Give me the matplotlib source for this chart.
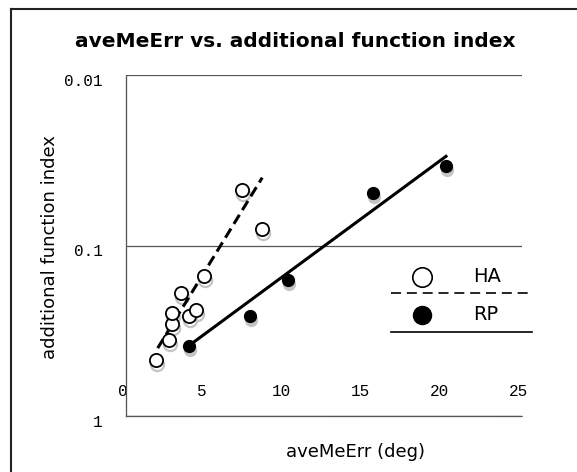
#!/usr/bin/env python3
import matplotlib
matplotlib.use("Agg")
import matplotlib.pyplot as plt
import matplotlib.transforms as mtransforms
from matplotlib.lines import Line2D
from matplotlib.ticker import NullLocator

W, H = 577, 472  # pixels

# HA series (open circles)
ha_x = [1.9, 2.7, 2.9, 2.9, 3.5, 4.0, 4.4, 4.9, 7.3, 8.6]
ha_y = [0.47, 0.36, 0.29, 0.25, 0.19, 0.26, 0.24, 0.15, 0.047, 0.080]
# RP series (filled circles)
rp_x = [4.0, 7.8, 10.2, 15.6, 20.2]
rp_y = [0.39, 0.26, 0.16, 0.049, 0.034]

# trend lines as drawn in the chart (end points)
ha_trend_x = [2.0, 8.6]
ha_trend_y = [0.40, 0.040]
rp_trend_x = [4.0, 20.2]
rp_trend_y = [0.385, 0.030]

x_ticks = [0, 5, 10, 15, 20, 25]
y_ticks = [0.01, 0.1, 1]
y_tick_labels = ["0.01", "0.1", "1"]

tick_font = dict(family="Liberation Mono", size=11.5)

fig = plt.figure(figsize=(W / 100.0, H / 100.0), dpi=100)
ax = fig.add_axes([126 / W, 1 - 416 / H, 396 / W, 341 / H])

# gray drop shadows under the markers
shadow = mtransforms.offset_copy(ax.transData, fig=fig, x=1, y=-4, units="dots")
ax.plot(ha_x, ha_y, "o", ms=9.5, mfc="none", mec="#c4c4c4", mew=1.6,
        transform=shadow, zorder=2)
ax.plot(rp_x, rp_y, "o", ms=8.5, mfc="#c4c4c4", mec="#c4c4c4",
        transform=shadow, zorder=2)

ax.plot(ha_trend_x, ha_trend_y, color="black", lw=2.2,
        linestyle=(0, (3.5, 1.8)), zorder=3)
ax.plot(rp_trend_x, rp_trend_y, color="black", lw=2.2, zorder=3)

ax.plot(ha_x, ha_y, "o", ms=9.5, mfc="white", mec="black", mew=1.3, zorder=4)
ax.plot(rp_x, rp_y, "o", ms=8.5, mfc="black", mec="black", zorder=4)

ax.set_yscale("log")
ax.set_ylim(1, 0.01)
ax.set_xlim(0, 25)
ax.yaxis.set_minor_locator(NullLocator())
ax.set_yticks(y_ticks, labels=y_tick_labels)
ax.set_xticks(x_ticks)
ax.grid(True, axis="y", color="#555555", lw=0.9)
ax.grid(False, axis="x")

for side in ["top", "right"]:
    ax.spines[side].set_visible(False)
for side in ["left", "bottom"]:
    ax.spines[side].set_color("#555555")
    ax.spines[side].set_linewidth(0.9)
    ax.spines[side].set_linestyle((0, (1.5, 0.6)))

ax.tick_params(axis="y", length=0, pad=17)
ax.tick_params(axis="x", length=0, pad=-23)
for lbl in ax.get_yticklabels() + ax.get_xticklabels():
    lbl.set_fontfamily(tick_font["family"])
    lbl.set_fontsize(tick_font["size"])
ydown = mtransforms.ScaledTranslation(0, -5 / 100.0, fig.dpi_scale_trans)
for lbl in ax.get_yticklabels():
    lbl.set_transform(lbl.get_transform() + ydown)
xleft = mtransforms.ScaledTranslation(-3 / 100.0, 0, fig.dpi_scale_trans)
for lbl in ax.get_xticklabels():
    lbl.set_transform(lbl.get_transform() + xleft)

# legend, drawn by hand (marker row, then a line row per series)
lx0, lx1 = (391 - 126) / 396, (532 - 126) / 396
mx, tx = (422 - 126) / 396, (473 - 126) / 396
ax.plot([mx], [0.4085], "o", ms=14, mfc="white", mec="black", mew=1.2,
        transform=ax.transAxes, clip_on=False, zorder=5)
ax.text(tx, 0.4085, "HA", transform=ax.transAxes, fontsize=14,
        va="center", ha="left")
ax.plot([lx0, lx1], [0.3618, 0.3618], color="black", lw=1.2,
        linestyle=(0, (6, 3.5)), transform=ax.transAxes, clip_on=False)
ax.plot([mx], [0.2962], "o", ms=13, mfc="black", mec="black",
        transform=ax.transAxes, clip_on=False, zorder=5)
ax.text(tx, 0.2962, "RP", transform=ax.transAxes, fontsize=14,
        va="center", ha="left")
ax.plot([lx0, lx1], [0.2472, 0.2472], color="black", lw=1.2,
        transform=ax.transAxes, clip_on=False)

# texts
fig.text(295 / W, 1 - 47 / H, "aveMeErr vs. additional function index",
         fontsize=14.5, fontweight="bold", ha="center", va="baseline")
fig.text(356 / W, 1 - 457 / H, "aveMeErr (deg)", fontsize=13,
         ha="center", va="baseline")
fig.text(55 / W, 1 - 247 / H, "additional function index", fontsize=13,
         rotation=90, rotation_mode="anchor", ha="center", va="baseline")

# outer chart frame (left and top edges visible)
fig.add_artist(Line2D([11 / W, 11 / W], [0, 1 - 9 / H], color="#222222",
                      lw=1.5, transform=fig.transFigure))
fig.add_artist(Line2D([11 / W, 1], [1 - 9 / H, 1 - 9 / H], color="#222222",
                      lw=1.5, transform=fig.transFigure))

fig.savefig("out.png", dpi=100)
plt.close("all")
